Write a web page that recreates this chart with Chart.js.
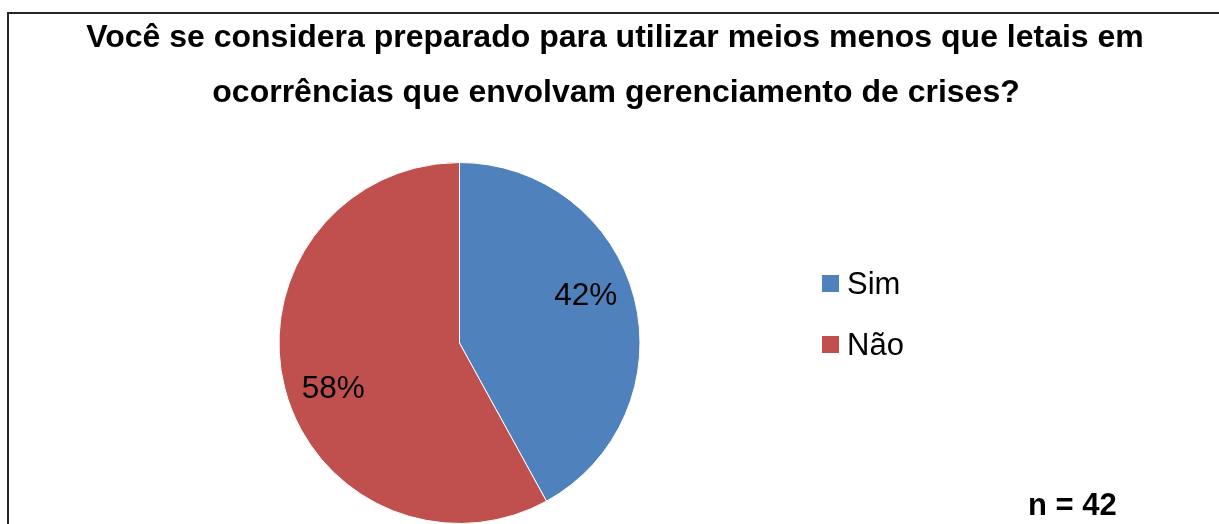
<!DOCTYPE html>
<html>
<head>
<meta charset="utf-8">
<script src="https://cdn.jsdelivr.net/npm/chart.js@4/dist/chart.umd.min.js"></script>
<style>
  html, body { margin: 0; padding: 0; background: #fff; }
  #wrap { position: relative; width: 1219px; height: 524px; overflow: hidden; }
  canvas { display: block; }
</style>
</head>
<body>
<div id="wrap"><canvas id="c" width="1219" height="524"></canvas></div>
<script>
const titleLines = ["Você se considera preparado para utilizar meios menos que letais em",
                    "ocorrências que envolvam gerenciamento de crises?"];
const categories = ["Sim", "Não"];
const values = [42, 58];
const colors = ["#4F81BD", "#C0504D"];
const noteText = "n = 42";

const FONT = "'Liberation Sans', Arial, Helvetica, sans-serif";

const decor = {
  id: 'decor',
  beforeDraw(chart) {
    const ctx = chart.ctx;
    ctx.save();
    ctx.fillStyle = '#fff';
    ctx.fillRect(0, 0, chart.width, chart.height);
    ctx.fillStyle = '#262626';
    ctx.fillRect(7, 12, 2, chart.height);
    ctx.fillRect(7, 12, chart.width, 2);
    ctx.restore();
  },
  afterDraw(chart) {
    const ctx = chart.ctx;
    ctx.save();
    ctx.fillStyle = '#000';
    // title
    ctx.font = "bold 32px " + FONT;
    ctx.textAlign = 'center';
    ctx.textBaseline = 'alphabetic';
    ctx.fillText(titleLines[0], 615, 47);
    ctx.fillText(titleLines[1], 616, 102);
    // data labels
    const meta = chart.getDatasetMeta(0);
    const data = chart.data.datasets[0].data;
    const total = data.reduce((a, b) => a + b, 0);
    ctx.font = "31.5px " + FONT;
    ctx.textBaseline = 'middle';
    meta.data.forEach((arc, i) => {
      const p = arc.getProps(['x', 'y', 'startAngle', 'endAngle', 'outerRadius'], true);
      const mid = (p.startAngle + p.endAngle) / 2 - 0.1;
      const r = p.outerRadius * 0.745;
      const pct = Math.round(data[i] / total * 100) + '%';
      ctx.fillText(pct, p.x + Math.cos(mid) * r, p.y + Math.sin(mid) * r);
    });
    // legend
    ctx.font = "31px " + FONT;
    ctx.textAlign = 'left';
    ctx.textBaseline = 'alphabetic';
    chart.data.labels.forEach((lab, i) => {
      const y = 294 + i * 61;
      ctx.fillStyle = chart.data.datasets[0].backgroundColor[i];
      ctx.fillRect(822, y - 19, 17, 17);
      ctx.fillStyle = '#000';
      ctx.fillText(lab, 847, y);
    });
    // note
    ctx.font = "bold 31px " + FONT;
    ctx.fillText(noteText, 1028, 515);
    ctx.restore();
  }
};

new Chart(document.getElementById('c'), {
  type: 'pie',
  data: {
    labels: categories,
    datasets: [{
      data: values,
      backgroundColor: colors,
      borderColor: '#ffffff',
      borderWidth: 1
    }]
  },
  options: {
    responsive: false,
    animation: false,
    layout: { padding: { left: 278, right: 578, top: 162, bottom: 0 } },
    plugins: {
      legend: { display: false },
      title: { display: false },
      tooltip: { enabled: false }
    }
  },
  plugins: [decor]
});
</script>
</body>
</html>
